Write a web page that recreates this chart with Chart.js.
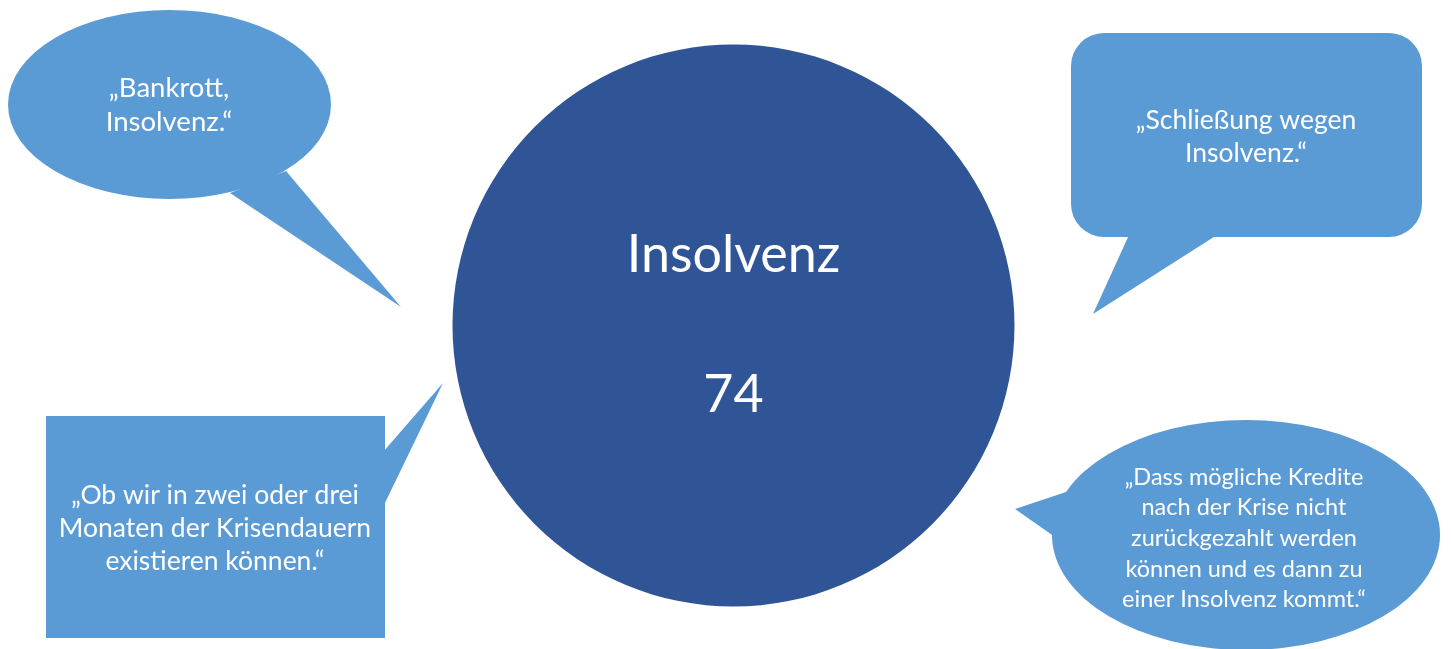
<!DOCTYPE html>
<html lang="de">
<head>
    <meta charset="UTF-8">
    <title>Insolvenz</title>
    <script src="https://cdn.jsdelivr.net/npm/chart.js"></script>
    <style>
        body { margin: 0; background: #fff; }
        #wrap { width: 1451px; height: 649px; }
    </style>
</head>
<body>
    <div id="wrap">
        <canvas id="chart" width="1451" height="649"></canvas>
    </div>

    <script>
        // Daten
        const categories = ['Insolvenz'];
        const values = [74];
        const quotes = [
            ['„Bankrott,', 'Insolvenz.“'],
            ['„Schließung wegen', 'Insolvenz.“'],
            ['„Ob wir in zwei oder drei', 'Monaten der Krisendauern', 'existieren können.“'],
            ['„Dass mögliche Kredite', 'nach der Krise nicht', 'zurückgezahlt werden', 'können und es dann zu', 'einer Insolvenz kommt.“']
        ];

        // Farben
        const circleColor = '#2F5597';
        const bubbleColor = '#5B9BD5';
        const fontFamily = 'Lato, "Open Sans", sans-serif';

        // Form und Lage der Sprechblasen (Pixel)
        const bubbleLayout = [
            { shape: 'ellipse', cx: 169.5, cy: 104.5, rx: 161.5, ry: 94.5,
              tail: [[230, 193], [286, 171], [401, 307]], tx: 169, ty: 105, size: 27.5, lh: 34 },
            { shape: 'round', x: 1071, y: 33, w: 351, h: 204, r: 33,
              tail: [[1129, 235], [1217, 235], [1093, 314]], tx: 1246, ty: 136.5, size: 26.5, lh: 33 },
            { shape: 'rect', x: 46, y: 416, w: 339, h: 222,
              tail: [[383, 452], [383, 507], [443, 383]], tx: 215, ty: 528, size: 26.5, lh: 33 },
            { shape: 'ellipse', cx: 1246, cy: 535, rx: 194, ry: 115,
              tail: [[1069, 491], [1055, 537], [1015, 509]], tx: 1244, ty: 538.5, size: 23.5, lh: 30.7 }
        ];

        function drawLines(ctx, lines, x, y, size, lh) {
            ctx.font = size + 'px ' + fontFamily;
            ctx.fillStyle = '#fff';
            ctx.textAlign = 'center';
            ctx.textBaseline = 'middle';
            const start = y - (lines.length - 1) * lh / 2;
            lines.forEach((t, i) => ctx.fillText(t, x, start + i * lh));
        }

        const bubblesPlugin = {
            id: 'bubbles',
            beforeDatasetsDraw(chart) {
                const ctx = chart.ctx;
                ctx.save();
                bubbleLayout.forEach((b, i) => {
                    ctx.fillStyle = bubbleColor;
                    ctx.beginPath();
                    if (b.shape === 'ellipse') {
                        ctx.ellipse(b.cx, b.cy, b.rx, b.ry, 0, 0, Math.PI * 2);
                    } else if (b.shape === 'round') {
                        ctx.roundRect(b.x, b.y, b.w, b.h, b.r);
                    } else {
                        ctx.rect(b.x, b.y, b.w, b.h);
                    }
                    ctx.fill();
                    ctx.beginPath();
                    ctx.moveTo(b.tail[0][0], b.tail[0][1]);
                    ctx.lineTo(b.tail[2][0], b.tail[2][1]);
                    ctx.lineTo(b.tail[1][0], b.tail[1][1]);
                    ctx.closePath();
                    ctx.fill();
                    drawLines(ctx, quotes[i], b.tx, b.ty, b.size, b.lh);
                });
                ctx.restore();
            },
            afterDatasetsDraw(chart) {
                const arc = chart.getDatasetMeta(0).data[0];
                const ctx = chart.ctx;
                ctx.save();
                ctx.font = '52px ' + fontFamily;
                ctx.fillStyle = '#fff';
                ctx.textAlign = 'center';
                ctx.textBaseline = 'middle';
                ctx.fillText(categories[0], arc.x, arc.y - 70);
                ctx.fillText(String(values[0]), arc.x, arc.y + 70);
                ctx.restore();
            }
        };

        new Chart(document.getElementById('chart'), {
            type: 'pie',
            data: {
                labels: categories,
                datasets: [{
                    data: values,
                    backgroundColor: circleColor,
                    borderWidth: 0,
                    hoverOffset: 0
                }]
            },
            options: {
                responsive: false,
                animation: false,
                events: [],
                layout: {
                    padding: { left: 452.5, right: 436.5, top: 44.5, bottom: 42.5 }
                },
                plugins: {
                    legend: { display: false },
                    tooltip: { enabled: false }
                }
            },
            plugins: [bubblesPlugin]
        });
    </script>
</body>
</html>
